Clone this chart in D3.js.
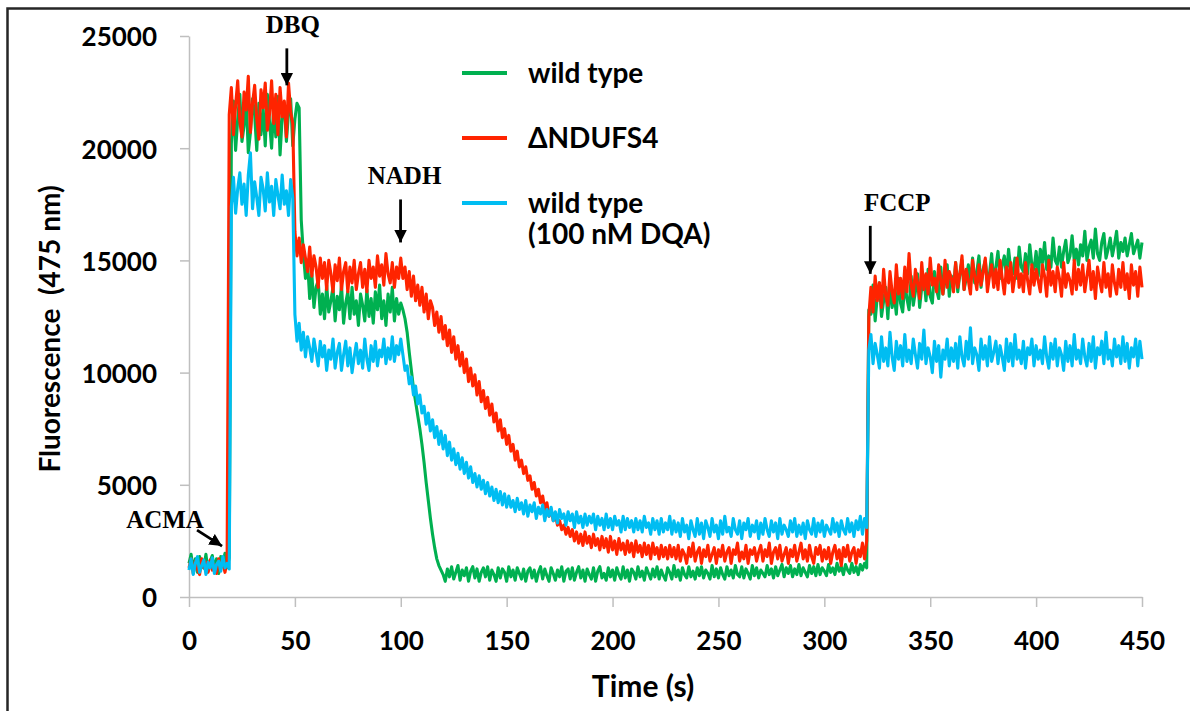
<!DOCTYPE html>
<html>
<head>
<meta charset="utf-8">
<script src="https://cdn.jsdelivr.net/npm/d3@7"></script>
<style>
  body { margin: 0; background: #fff; }
  svg { display: block; }
</style>
</head>
<body>
<svg id="chart"></svg>
<script>
// ticks
const xTicks = [0, 50, 100, 150, 200, 250, 300, 350, 400, 450]
const yTicks = [0, 5000, 10000, 15000, 20000, 25000]

// samples every 1 s, 0..450 s
const times = d3.range(0, 451)

// wild type
const wildType = [
  1500,1900,1200,1700,1100,1800,1400,1300,1900,1150,1600,1850,1200,1700,1050,1800,1500,1950,1300,1750,
  20200,22100,19900,21300,22400,20300,21000,22300,19800,20700,22200,21500,19900,22000,20600,21800,20100,22400,21200,20000,21900,20500,22300,19700,21400,22000,20300,21600,22200,20100,21300,22000,21800,
  16800,15300,14200,14900,13300,14400,12900,13800,14100,12600,13500,12400,13900,12700,13200,13800,12300,13400,12800,13900,12200,13100,13600,12400,13800,12600,13200,12100,13500,13000,12300,13700,12500,13300,12200,13600,12800,13900,12400,13200,12100,13500,12700,13800,12300,13300,12600,13100,
  12800,12400,11800,10900,10100,9300,8700,8100,7500,6800,6000,5100,4300,3500,2800,2200,1700,1400,1200,1000,
  700,1250,900,1350,800,1100,1400,750,1200,950,1300,700,1150,1350,850,1250,700,1100,1300,900,
  1350,750,1200,1000,700,1300,850,1250,1100,700,1350,900,1200,750,1300,1050,800,1250,700,1150,
  1300,850,1200,700,1100,1350,800,1250,950,700,1300,1050,750,1200,900,1350,700,1150,1250,800,
  1300,750,1100,1350,850,1200,700,1250,1000,800,1300,700,1150,1350,850,1050,750,1300,900,1200,
  750,1300,1000,800,1350,850,1200,700,1250,1100,800,1350,900,1150,750,1300,1050,800,1250,900,
  1350,800,1200,950,750,1300,1100,800,1400,900,1200,750,1300,1000,850,1350,900,1150,800,1300,
  950,1350,850,1200,1050,800,1400,900,1250,850,1300,1000,800,1350,950,1200,850,1400,1000,900,
  1350,850,1250,1050,800,1400,950,1300,850,1200,1050,900,1400,1000,1250,850,1350,950,1200,1450,
  900,1300,1050,1400,900,1250,1000,1450,950,1300,1100,900,1400,1050,1350,950,1450,1000,1300,1150,
  950,1450,1100,1300,1000,1500,1150,1350,1000,1450,1200,1050,1500,1100,1350,1000,1450,1200,1500,1300,
  12800,
  12600,13900,12300,13400,14000,12500,13200,13800,12400,14100,12900,13500,12600,14200,13100,12700,14000,13300,12800,14300,
  13000,13600,14400,12900,13800,14300,13200,14600,13400,13100,14500,13700,13300,14700,13500,14100,14800,13400,14300,13800,
  14900,13600,14400,15000,13700,14200,14800,13900,15100,14000,14500,15200,13800,14600,15000,14100,14400,15300,14000,14700,
  15400,14200,14800,15200,14300,15500,14600,14400,15100,14200,15600,14700,14500,15300,14400,15700,14800,14600,15400,14300,
  15500,14900,15800,14600,15200,14700,16000,15000,14800,15600,14700,15400,15900,14900,15200,16100,15000,15500,14800,15700,
  15200,16300,15000,15600,15900,15100,16400,15300,15000,15800,16200,15100,15500,16000,15200,15700,16300,15100,15800,15400,
  16000,15200,15700,16200,15300,15600,15900,15100,15800
]

// ΔNDUFS4
const ndufs4 = [
  1300,1700,1050,1600,1250,1000,1700,1300,1550,1100,1650,1200,1450,1050,1700,1300,1500,1100,1600,
  21500,22700,20600,21900,23000,21200,20500,22500,21700,23200,20700,22000,22800,21300,20400,22600,21800,22900,20800,21500,23000,21100,22400,20600,22700,21400,22100,20500,22900,21600,21100,
  16300,15200,16000,14900,15700,15100,14500,15600,14300,15200,14700,13800,15100,14200,14900,13700,15000,14400,13600,14800,14100,15100,13700,14500,14900,13600,14700,14000,15000,13700,14400,14900,13800,14600,13600,15000,14200,14700,13800,15200,14300,14800,13900,15300,14400,14000,14900,13800,14700,14200,15100,
  14200,14700,13700,14500,13400,14300,13200,13900,13000,13800,12700,13500,12400,13200,12900,12100,12700,11800,12500,11500,12100,11200,11900,10900,11600,10600,11200,10300,10900,10000,
  10600,9600,10200,9400,9900,9000,9600,8700,9200,8400,8900,8100,8600,7800,8200,7400,7900,7100,7500,6800,7200,6500,6800,6100,6500,5800,6100,5500,5800,5200,5400,4800,5100,4500,4800,4200,4500,3900,4200,3600,3900,3400,3700,3200,3400,3000,3200,2800,3100,2700,
  3000,2500,2900,2400,2800,2300,2900,2400,2700,2200,2800,2300,2600,2100,2700,2200,2600,2000,2700,2100,2500,1900,2600,2100,2400,1900,2500,2000,2400,1800,2500,2000,2300,1800,2400,1900,2300,1700,2400,1900,2200,1700,2300,1800,2200,1700,2300,1800,2200,1700,
  2300,1600,2100,1900,1500,2200,1800,2400,1600,2000,2200,1500,2100,1800,2300,1600,1900,2200,1500,2100,
  1800,2300,1600,2000,2200,1500,2100,1900,2400,1600,2000,1700,2300,1500,2100,1900,2200,1600,2000,2300,
  1600,2100,1800,2400,1500,2000,2200,1700,2300,1600,1900,2200,1500,2100,1800,2300,1600,2000,2400,1700,
  2100,1600,2300,1800,1500,2200,1900,2300,1600,2100,1700,2200,1500,2000,2300,1700,2100,1400,2200,1800,
  2300,1600,2000,2200,1500,2100,1800,2400,1700,2500,
  12500,
  13800,12700,14300,13200,14000,12900,14600,13400,13000,14500,13600,13100,14800,13500,14200,13300,14700,13600,15300,13900,
  13400,14600,14000,13300,14900,13700,14400,13500,15100,13900,14200,13600,14800,14100,13500,15000,13800,14500,14200,13600,
  14900,13800,14400,15200,13700,14600,14100,13500,15000,14300,13700,14800,13900,14500,15100,13600,14300,14800,13800,14600,
  13700,15000,14200,13500,14700,14000,14900,13600,14300,15100,13800,14400,13600,14900,14100,13500,14800,13900,14600,14100,
  13600,14800,14300,13400,15000,13900,14500,13600,14700,14200,13400,14900,13800,14400,14100,13500,15000,13700,14600,13900,
  14800,13600,14300,15000,13700,14500,13300,14700,14100,13600,14900,13800,14400,13400,14800,14000,13500,14600,13800,14900,
  13700,14400,13300,14800,13900,14500,13400,14700,13800
]

// wild type + 100 nM DQA
const wildTypeDQA = [
  1200,1700,1000,1500,1800,1100,1400,1650,1000,1550,1300,1750,1050,1450,1600,1150,1800,1300,1500,1250,
  17400,18700,17100,18200,18900,17500,18400,17000,18800,19800,17300,18500,17800,17000,18700,18200,17200,18900,17600,18300,17000,18600,17900,17300,18800,17500,18100,17000,18600,17800,
  12600,11400,12200,11000,11800,10700,11600,11100,10500,11500,10900,10300,11400,10700,11200,10100,11000,10600,11500,10200,10900,11300,10100,10800,11400,10300,11100,10000,10700,11300,10400,11000,10200,11500,10600,10100,11200,10500,11400,10300,11000,10700,11500,10400,11100,10600,11600,10500,11200,10800,11500,
  10800,10100,10300,9500,9800,9000,9400,8600,9000,8200,8500,7700,8200,7400,7900,7100,7600,6800,7400,6600,7200,6300,6900,6100,6600,5900,6400,5700,6200,5500,6000,5300,5800,5100,5500,4900,5400,4800,5200,4600,5100,4500,4900,4300,4800,4200,4700,4100,4600,4000,
  4500,4000,4300,3800,4400,3900,4200,3700,4300,3600,4100,3800,4200,3500,4000,3700,4100,3400,3900,3600,
  4000,3400,3800,3300,3900,3500,3700,3200,3800,3400,3700,3100,3800,3300,3600,3100,3700,3200,3600,3300,
  3700,3000,3600,3200,3500,3000,3700,3100,3500,3000,3600,3200,3400,2900,3600,3000,3500,3100,3400,2900,
  3500,3000,3400,2900,3600,3100,3300,2800,3500,3000,3400,2800,3500,2900,3300,3000,3600,2800,3400,2900,
  3300,2700,3500,2900,3200,2600,3400,3000,2700,3500,2800,3300,2600,3400,3100,2700,3500,2900,3200,2600,
  3400,2800,3600,2900,3100,2700,3500,3000,2800,3400,2600,3300,3000,3500,2700,3200,2900,3400,2600,3300,
  2800,3500,3000,2700,3400,2900,3300,2600,3500,2800,3200,3000,2700,3400,2900,3500,2700,3200,2800,3300,
  2600,3400,3000,2800,3500,2700,3300,2900,3400,2700,3200,3000,2800,3500,2900,3300,2700,3400,3000,2800,
  3500,2900,3300,2700,3400,3000,3600,2800,3500,3100,
  11000,
  11700,10400,11300,10800,10200,11600,10500,11100,10300,11800,10700,10100,11400,10600,11200,10300,11700,10500,11000,10400,
  11500,10800,10200,11300,10600,11900,10400,11100,10700,10000,11400,10500,11200,9800,11000,10600,11500,10300,11100,10500,
  11300,10200,11600,10700,10300,11400,10600,12000,10400,11100,10800,10100,11500,10600,11200,10300,11600,10500,10900,11400,
  10400,11200,10700,10100,11500,10500,11300,10300,11700,10600,11000,10400,11400,10200,11100,10800,11500,10300,11200,10600,
  11000,10400,11600,10700,10200,11300,10600,11500,10300,11100,10800,10100,11400,10500,11200,10300,11700,10600,11000,10400,
  11500,10700,10300,11300,10500,11600,10200,11100,10800,11400,10400,11800,10600,11000,10300,11500,10700,11200,10400,11600,
  10500,11300,10200,11100,10700,11500,10300,11400,10600
]

const seriesLabels = [['wild type'], ['\u0394NDUFS4'], ['wild type', '(100 nM DQA)']]
const seriesColors = ['#00b050', '#ff2400', '#00bdf2']

// additions: label, time (s), fluorescence at arrow tip
const eventLabels = ['ACMA', 'DBQ', 'NADH', 'FCCP']
const eventTimes = [15.6, 46.2, 99.9, 321.7]
const eventTips = [2270, 22800, 15800, 14400]

let width = 1190
let height = 711
let svg = d3.select('#chart')
  .attr('width', width)
  .attr('height', height)

let x = d3.scaleLinear().domain([0, 450]).range([189, 1142])
let y = d3.scaleLinear().domain([0, 25000]).range([597, 36])

// outer frame
svg.append('rect')
  .attr('x', 7.5).attr('y', 8.5)
  .attr('width', 1200).attr('height', 720)
  .attr('fill', 'none')
  .attr('stroke', '#262626')
  .attr('stroke-width', 2.5)

let sansBold = 'Lato, "Open Sans", sans-serif'

// axes
let yAxis = svg.append('g')
  .attr('transform', `translate(${x(0)},0)`)
  .call(d3.axisLeft(y).tickValues(yTicks).tickFormat(d3.format('d'))
    .tickSize(9).tickSizeOuter(0).tickPadding(23))
let xAxis = svg.append('g')
  .attr('transform', `translate(0,${y(0)})`)
  .call(d3.axisBottom(x).tickValues(xTicks).tickSize(10).tickSizeOuter(0))

for (let ax of [yAxis, xAxis]) {
  ax.select('.domain').attr('stroke', '#bfbfbf').attr('stroke-width', 1.5)
  ax.selectAll('.tick line').attr('stroke', '#bfbfbf').attr('stroke-width', 1.5)
  ax.selectAll('.tick text')
    .attr('fill', '#000')
    .style('font-family', sansBold)
    .style('font-weight', 'bold')
    .style('font-size', '26px')
}
yAxis.selectAll('.tick text').attr('dy', '0.38em')
xAxis.selectAll('.tick text').attr('y', 44).attr('dy', '0.36em')

// axis titles
svg.append('text')
  .attr('x', 643).attr('y', 686)
  .attr('text-anchor', 'middle')
  .attr('dy', '0.36em')
  .style('font-family', sansBold).style('font-weight', 'bold').style('font-size', '30px')
  .text('Time (s)')
svg.append('text')
  .attr('transform', 'translate(50,329) rotate(-90)')
  .attr('text-anchor', 'middle')
  .attr('dy', '0.36em')
  .style('font-family', sansBold).style('font-weight', 'bold').style('font-size', '28px')
  .style('white-space', 'pre')
  .text('Fluorescence  (475 nm)')

// traces
let line = d3.line()
  .x((d, i) => x(times[i]))
  .y((d) => y(d))
let allSeries = [wildType, ndufs4, wildTypeDQA]
allSeries.forEach((s, i) => {
  svg.append('path')
    .datum(s)
    .attr('d', line)
    .attr('fill', 'none')
    .attr('stroke', seriesColors[i])
    .attr('stroke-width', 3.1)
    .attr('stroke-linejoin', 'round')
})

// legend
let legendY = [73, 138, 203]
let legend = svg.selectAll('.legend')
  .data(seriesLabels)
  .enter()
  .append('g')
  .attr('class', 'legend')
  .attr('transform', (d, i) => `translate(462,${legendY[i]})`)
legend.append('line')
  .attr('x1', 0).attr('x2', 45)
  .attr('stroke', (d, i) => seriesColors[i])
  .attr('stroke-width', 4)
legend.each(function (d) {
  let t = d3.select(this).append('text')
    .style('font-family', sansBold).style('font-weight', 'bold').style('font-size', '28px')
  d.forEach((s, k) => {
    t.append('tspan').attr('x', 66).attr('y', k * 31).attr('dy', '0.36em').text(s)
  })
})

// event arrows
svg.append('defs').append('marker')
  .attr('id', 'head')
  .attr('viewBox', '0 0 10 10')
  .attr('refX', 10).attr('refY', 5)
  .attr('markerWidth', 4.5).attr('markerHeight', 4.5)
  .attr('markerUnits', 'strokeWidth')
  .attr('orient', 'auto')
  .append('path')
  .attr('d', 'M0,0L10,5L0,10Z')
  .attr('fill', '#000')

let serif = '"Liberation Serif", "Times New Roman", serif'
eventLabels.forEach((lab, i) => {
  let tx = x(eventTimes[i])
  let ty = y(eventTips[i])
  if (lab === 'ACMA') {
    svg.append('line')
      .attr('x1', tx - 25).attr('y1', ty - 16)
      .attr('x2', tx).attr('y2', ty)
      .attr('stroke', '#000').attr('stroke-width', 2.8)
      .attr('marker-end', 'url(#head)')
    svg.append('text')
      .attr('x', tx - 57).attr('y', ty - 18)
      .attr('text-anchor', 'middle')
      .style('font-family', serif).style('font-weight', 'bold').style('font-size', '25px')
      .text(lab)
  } else {
    let len = lab === 'FCCP' ? 48 : (lab === 'NADH' ? 43 : 37)
    svg.append('line')
      .attr('x1', tx).attr('y1', ty - len)
      .attr('x2', tx).attr('y2', ty)
      .attr('stroke', '#000').attr('stroke-width', 2.8)
      .attr('marker-end', 'url(#head)')
    let dx = lab === 'FCCP' ? 27 : (lab === 'DBQ' ? 6 : 4)
    svg.append('text')
      .attr('x', tx + dx).attr('y', ty - len - 15)
      .attr('text-anchor', 'middle')
      .style('font-family', serif).style('font-weight', 'bold').style('font-size', '25px')
      .text(lab)
  }
})
</script>
</body>
</html>
